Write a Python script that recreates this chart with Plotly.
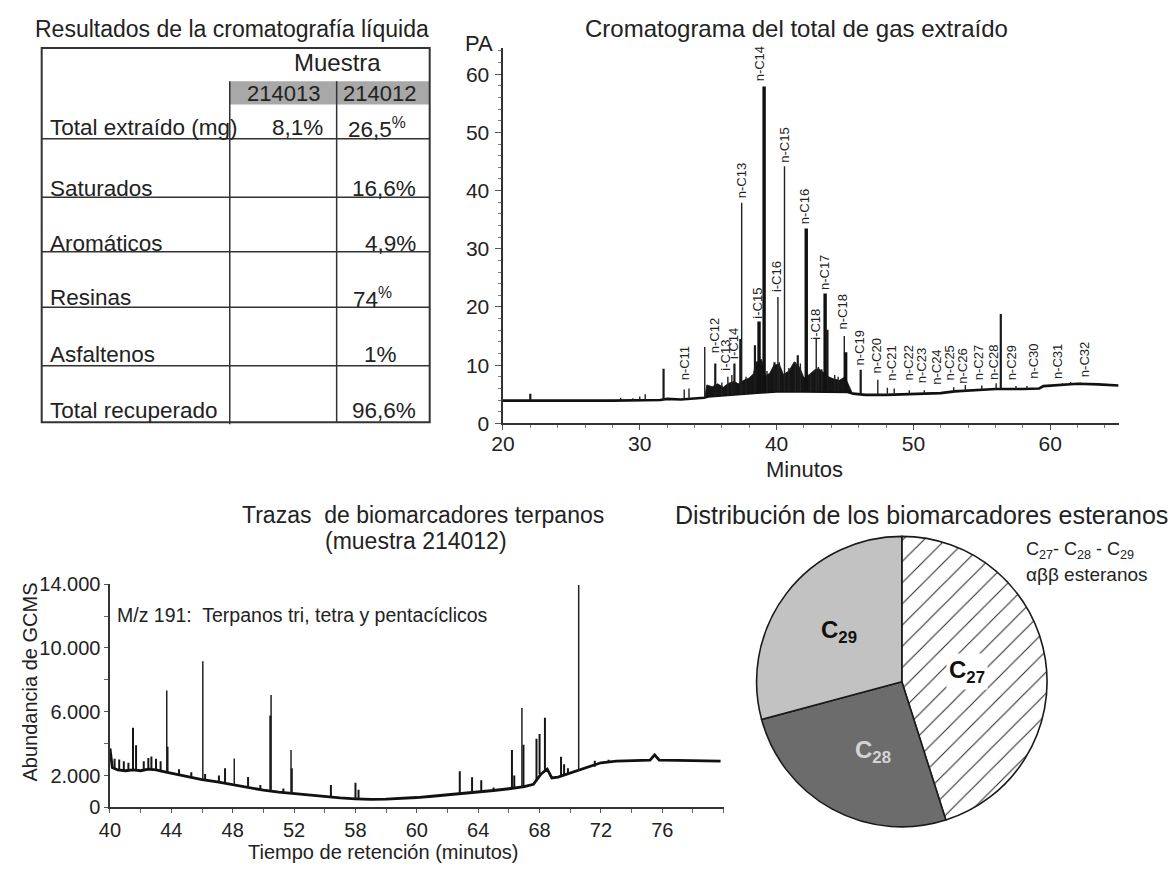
import plotly.graph_objects as go

W, H = 1176, 873
FONT = "Liberation Sans, Arial, Helvetica, sans-serif"

# ------------------------------------------------------------------ data
# Table (cromatografía líquida)
tabla_titulo = "Resultados de la cromatografía líquida"
tabla_filas = ["Total extraído (mg)", "Saturados", "Aromáticos", "Resinas", "Asfaltenos", "Total recuperado"]
tabla_muestras = ["214013", "214012"]
valores_214013 = ["8,1%", "", "", "", "", ""]
valores_214012 = ["26,5<sup>%</sup>", "16,6%", "4,9%", "74<sup>%</sup>", "1%", "96,6%"]

# Chromatogram of total extracted gas (minutes, PA)
crom_base_t = [20.0, 21.8, 22.3, 26.0, 28.0, 31.5, 32.0, 33.0, 34.0, 34.7, 35.0, 36.0, 37.0, 38.0,
               39.0, 40.0, 42.0, 44.0, 45.2, 45.6, 46.5, 48.0, 50.0, 52.0, 53.0, 54.0, 56.0, 58.0,
               59.2, 59.5, 61.0, 62.0, 63.5, 65.0]
crom_base_v = [3.9, 3.9, 3.9, 3.8, 3.9, 4.0, 4.2, 4.1, 4.3, 4.4, 4.6, 4.8, 4.9, 5.1,
               5.3, 5.5, 5.5, 5.5, 5.4, 5.1, 4.9, 4.9, 5.0, 5.2, 5.5, 5.6, 5.9, 5.9,
               6.0, 6.4, 6.6, 6.8, 6.7, 6.5]
crom_bosque_t = [34.75, 34.9, 35.3, 35.7, 36.1, 36.5, 36.9, 37.2, 37.6, 38.0, 38.3, 38.5, 38.9, 39.2,
                 39.5, 39.8, 40.2, 40.5, 40.9, 41.3, 41.7, 42.0, 42.4, 42.8, 43.1, 43.4, 43.8, 44.2,
                 44.6, 45.0, 45.3, 45.5]
crom_bosque_v = [4.4, 6.6, 6.3, 6.8, 6.2, 6.9, 7.2, 6.8, 7.4, 7.8, 8.5, 10.5, 11.0, 8.2,
                 8.6, 10.0, 10.2, 8.4, 9.0, 10.6, 9.6, 7.8, 8.4, 9.2, 9.4, 8.8, 8.0, 7.6,
                 7.4, 8.0, 6.6, 5.4]
# peaks: retention time, apex, foot
picos_gruesos_t = [38.72, 39.09, 42.17, 43.55, 45.05]
picos_gruesos_top = [17.5, 57.9, 33.5, 22.3, 12.2]
picos_gruesos_base = [5.2, 5.3, 5.5, 5.5, 5.4]
picos_medios_t = [22.0, 31.74, 35.52, 36.92, 37.35, 38.42, 39.85, 41.55, 43.72, 46.15, 56.39]
picos_medios_top = [5.1, 9.4, 10.3, 10.3, 14.5, 13.4, 10.5, 11.7, 16.1, 9.2, 18.8]
picos_medios_base = [3.9, 4.0, 4.7, 4.9, 5.0, 5.2, 5.4, 5.5, 5.5, 4.9, 5.9]
picos_finos_t = [28.6, 29.5, 30.0, 30.4, 33.25, 33.6, 34.75, 36.0, 36.44, 36.73, 37.45, 37.77, 39.3,
                 40.1, 40.2, 40.58, 40.9, 41.37, 41.74, 42.5, 42.9, 43.05, 43.3, 44.25, 44.5, 44.95,
                 47.4, 48.1, 48.6, 49.7, 50.8, 52.95, 53.8, 55.0, 56.05, 57.5, 58.3, 60.9, 61.5, 62.2]
picos_finos_top = [4.4, 4.3, 4.6, 5.0, 5.8, 6.0, 13.1, 7.0, 8.0, 8.3, 37.9, 8.0, 9.0,
                   21.7, 10.5, 44.2, 9.5, 10.5, 10.3, 8.5, 14.5, 9.7, 9.3, 8.3, 8.0, 15.0,
                   7.5, 6.1, 6.0, 5.7, 5.7, 6.2, 6.6, 6.5, 6.9, 6.4, 6.4, 6.9, 7.1, 7.0]
picos_finos_base = [3.9, 3.9, 4.0, 4.0, 4.2, 4.2, 4.4, 4.8, 4.8, 4.9, 4.9, 5.0, 5.3,
                    5.5, 5.5, 5.5, 5.5, 5.5, 5.5, 5.5, 5.5, 5.5, 5.5, 5.5, 5.5, 5.4,
                    4.9, 4.9, 4.9, 5.0, 5.0, 5.3, 5.5, 5.7, 5.9, 5.9, 5.9, 6.6, 6.6, 6.7]
crom_etiquetas = ["n-C11", "n-C12", "i-C13", "i-C14", "n-C13", "i-C15", "n-C14", "i-C16", "n-C15",
                  "n-C16", "i-C18", "n-C17", "n-C18", "n-C19", "n-C20", "n-C21", "n-C22", "n-C23",
                  "n-C24", "n-C25", "n-C26", "n-C27", "n-C28", "n-C29", "n-C30", "n-C31", "n-C32"]
crom_etiq_t = [33.3, 35.47, 36.2, 36.85, 37.43, 38.6, 38.75, 39.96, 40.57,
               42.02, 42.85, 43.46, 44.8, 46.03, 47.31, 48.42, 49.65, 50.59,
               51.67, 52.65, 53.62, 54.82, 55.9, 57.24, 58.79, 60.49, 62.48]
crom_etiq_v = [7.2, 11.9, 8.9, 10.9, 38.5, 17.8, 58.6, 22.3, 44.6,
               34.0, 14.2, 22.8, 15.9, 9.7, 8.4, 7.2, 7.2, 6.7,
               6.4, 7.2, 6.7, 7.2, 7.2, 7.2, 7.5, 7.5, 7.7]

# Terpane trace m/z 191 (minutes, GCMS abundance)
terp_base_t = [40.0, 40.15, 40.5, 41.0, 41.5, 42.0, 42.5, 43.0, 43.5, 44.0, 45.0, 46.0, 47.0, 48.0,
               49.0, 50.0, 51.0, 52.0, 53.0, 54.0, 55.0, 56.0, 57.0, 58.0, 59.0, 60.0, 61.0, 62.0,
               63.0, 64.0, 65.0, 66.0, 67.0, 67.6, 68.1, 68.5, 68.8, 69.2, 70.0, 70.5, 71.0, 71.5,
               72.0, 73.0, 74.0, 75.2, 75.5, 75.8, 77.0, 78.0, 79.8]
terp_base_v = [3700, 2500, 2350, 2300, 2350, 2300, 2400, 2350, 2250, 2150, 1950, 1750, 1600, 1420,
               1250, 1080, 960, 860, 780, 700, 600, 540, 500, 520, 560, 620, 700, 780,
               860, 950, 1060, 1170, 1300, 1450, 2100, 2400, 1850, 1900, 2150, 2300, 2450, 2600,
               2800, 2900, 2950, 2970, 3300, 2970, 2950, 2930, 2900]
terp_picos_t = [40.3, 40.6, 40.9, 41.2, 41.5, 41.7, 42.2, 42.5, 42.7, 43.0, 43.3, 43.75, 44.5, 45.3,
                46.2, 47.1, 47.5, 49.0, 49.8, 50.45, 51.3, 51.85, 54.4, 56.0, 56.2, 62.8, 63.6, 64.2,
                65.0, 66.2, 66.35, 66.95, 67.8, 68.0, 68.35, 69.4, 69.6, 69.85, 71.6, 72.5]
terp_picos_top = [3050, 3000, 2900, 2800, 5000, 3900, 2900, 3100, 3200, 3050, 2900, 3800, 2400, 2200,
                  2100, 2000, 2450, 1910, 1400, 5760, 1180, 2460, 1400, 1550, 1100, 2260, 1890, 1710,
                  1250, 3600, 2000, 3930, 4300, 4600, 5620, 3180, 2710, 2460, 2930, 2990]
terp_picos_base = [2400, 2350, 2300, 2300, 2350, 2350, 2300, 2400, 2400, 2350, 2300, 2250, 2050, 1900,
                   1750, 1600, 1550, 1250, 1100, 1050, 960, 880, 680, 540, 540, 790, 880, 950,
                   1060, 1170, 1170, 1300, 1700, 2100, 2300, 1950, 2000, 2050, 2550, 2850]
terp_agujas_t = [43.7, 46.05, 48.1, 50.5, 51.8, 66.85, 70.55]
terp_agujas_top = [7330, 9170, 3060, 7050, 3600, 6230, 13950]
terp_agujas_base = [2250, 1760, 1450, 1050, 880, 1280, 2300]

# Sterane distribution
esteranos = ["C<sub>27</sub>", "C<sub>28</sub>", "C<sub>29</sub>"]
esteranos_pct = [45.1, 25.7, 29.2]


# ------------------------------------------------------------------ helpers
def px(x):
    return x / W


def py(y):
    return 1 - y / H


def ann(text, x, y, size=22, xanchor="center", yanchor="middle", color="#222", **kw):
    return dict(text=text, x=px(x), y=py(y), xref="paper", yref="paper", showarrow=False,
                font=dict(size=size, family=FONT, color=color), xanchor=xanchor,
                yanchor=yanchor, **kw)


def segs(ts, tops, bases):
    xs, ys = [], []
    for t, a, b in zip(ts, tops, bases):
        xs += [t, t, None]
        ys += [b, a, None]
    return xs, ys


fig = go.Figure()

# ------------------------------------------------------------------ chromatogram
lo, hi = crom_bosque_t[0], crom_bosque_t[-1]
poly_x = list(crom_bosque_t) + [t for t in reversed(crom_base_t) if lo <= t <= hi]
poly_y = list(crom_bosque_v) + [v for t, v in zip(reversed(crom_base_t), reversed(crom_base_v)) if lo <= t <= hi]
fig.add_trace(go.Scatter(x=poly_x, y=poly_y, fill="toself", fillcolor="#151515", mode="lines",
                         line=dict(color="#151515", width=0.8), xaxis="x", yaxis="y",
                         hoverinfo="skip", showlegend=False))
fig.add_trace(go.Scatter(x=crom_base_t, y=crom_base_v, mode="lines",
                         line=dict(color="#111", width=2.6), xaxis="x", yaxis="y",
                         hoverinfo="skip", showlegend=False))
for ts, tops, bases, wdt, col in [
    (picos_finos_t, picos_finos_top, picos_finos_base, 1.4, "#222"),
    (picos_medios_t, picos_medios_top, picos_medios_base, 2.2, "#1a1a1a"),
    (picos_gruesos_t, picos_gruesos_top, picos_gruesos_base, 3.4, "#111"),
]:
    xs, ys = segs(ts, tops, bases)
    fig.add_trace(go.Scatter(x=xs, y=ys, mode="lines", line=dict(color=col, width=wdt),
                             xaxis="x", yaxis="y", hoverinfo="skip", showlegend=False))

# ------------------------------------------------------------------ terpanes
fig.add_trace(go.Scatter(x=terp_base_t, y=terp_base_v, mode="lines",
                         line=dict(color="#111", width=2.8), xaxis="x2", yaxis="y2",
                         hoverinfo="skip", showlegend=False))
xs, ys = segs(terp_picos_t, terp_picos_top, terp_picos_base)
fig.add_trace(go.Scatter(x=xs, y=ys, mode="lines", line=dict(color="#151515", width=2.0),
                         xaxis="x2", yaxis="y2", hoverinfo="skip", showlegend=False))
xs, ys = segs(terp_agujas_t, terp_agujas_top, terp_agujas_base)
fig.add_trace(go.Scatter(x=xs, y=ys, mode="lines", line=dict(color="#222", width=1.5),
                         xaxis="x2", yaxis="y2", hoverinfo="skip", showlegend=False))

# ------------------------------------------------------------------ sterane pie
pie_cx, pie_cy, pie_r = 899, 688, 149
fig.add_trace(go.Pie(
    labels=esteranos, values=esteranos_pct, sort=False, direction="clockwise", rotation=0,
    textinfo="none", hoverinfo="skip", showlegend=False,
    marker=dict(colors=["#ffffff", "#6c6c6c", "#c2c2c2"],
                line=dict(color="#1a1a1a", width=1.6),
                pattern=dict(shape=["/", "", ""], fgcolor="#2a2a2a", bgcolor="#ffffff",
                             size=15, solidity=0.07)),
    domain=dict(x=[px(pie_cx - pie_r), px(pie_cx + pie_r)],
                y=[py(pie_cy + pie_r), py(pie_cy - pie_r)]),
))

# ------------------------------------------------------------------ axes
axis_common = dict(showgrid=False, zeroline=False, showline=True, linecolor="#333",
                   linewidth=1.5, ticks="outside", tickcolor="#555",
                   tickfont=dict(size=21, family=FONT, color="#222"), fixedrange=True)
layout_axes = dict(
    xaxis=dict(axis_common, domain=[px(496), px(1118)], range=[20, 65], anchor="y",
               tickvals=[20, 30, 40, 50, 60], ticklen=5, ticklabelstandoff=-4,
               minor=dict(dtick=2, tick0=20, ticklen=3, ticks="outside", tickcolor="#777")),
    yaxis=dict(axis_common, domain=[py(423), py(38)], range=[0, 64.5], anchor="x",
               tickvals=[0, 10, 20, 30, 40, 50, 60], ticklen=6, ticklabelstandoff=2,
               minor=dict(dtick=2, tick0=0, ticklen=3, ticks="outside", tickcolor="#777")),
    xaxis2=dict(axis_common, domain=[px(99), px(719)], range=[40, 80], anchor="y2",
                tickvals=[40, 44, 48, 52, 56, 60, 64, 68, 72, 76],
                ticktext=["40", "44", "48", "52", "58", "60", "64", "68", "72", "76"],
                ticklen=4, tickfont=dict(size=20, family=FONT, color="#222"),
                minor=dict(dtick=2, tick0=40, ticklen=4, ticks="outside", tickcolor="#666")),
    yaxis2=dict(axis_common, domain=[py(817), py(588)], range=[0, 14000], anchor="x2",
                tickvals=[0, 2000, 6000, 10000, 14000],
                ticktext=["0", "2.000", "6.000", "10.000", "14.000"],
                ticklen=4, tickfont=dict(size=20, family=FONT, color="#222"),
                minor=dict(dtick=2000, tick0=0, ticklen=4, ticks="outside", tickcolor="#666")),
)

# ------------------------------------------------------------------ table shapes
shapes = []
LC = "#333"
shapes.append(dict(type="rect", xref="paper", yref="paper", x0=px(220), x1=px(422), y0=py(96), y1=py(72),
                   fillcolor="#a8a8a8", line=dict(width=0), layer="below"))
shapes.append(dict(type="rect", xref="paper", yref="paper", x0=px(30), x1=px(422), y0=py(422), y1=py(38),
                   line=dict(color=LC, width=2)))
for xv, y0, y1 in [(220, 72, 424), (328, 72, 422)]:
    shapes.append(dict(type="line", xref="paper", yref="paper", x0=px(xv), x1=px(xv), y0=py(y1), y1=py(y0),
                       line=dict(color=LC, width=1.5)))
for yv in [131, 191, 247, 304, 364]:
    shapes.append(dict(type="line", xref="paper", yref="paper", x0=px(30), x1=px(422), y0=py(yv), y1=py(yv),
                       line=dict(color=LC, width=1.5)))

# ------------------------------------------------------------------ annotations
anns = []
anns.append(ann(tabla_titulo, 222, 18, size=23))
anns.append(ann("Muestra", 329, 53, size=24))
anns.append(ann(tabla_muestras[0], 274, 85, size=22))
anns.append(ann(tabla_muestras[1], 371, 85, size=22))
fila_base = [128, 190, 246, 302, 360, 418]
for nombre, yb in zip(tabla_filas, fila_base):
    anns.append(ann(nombre, 36, yb - 8, size=22.5, xanchor="left"))
col1_pos = [(316, "right")] * 6
col2_pos = [(337, "left"), (410, "right"), (410, "right"), (342, "left"), (354, "left"), (341, "left")]
for v, (xx, xa), yb in zip(valores_214013, col1_pos, fila_base):
    if v:
        anns.append(ann(v, xx, yb - 8, size=22.5, xanchor=xa))
for v, (xx, xa), yb in zip(valores_214012, col2_pos, fila_base):
    if v:
        anns.append(ann(v, xx, yb - 8, size=22.5, xanchor=xa))

# chromatogram texts
anns.append(ann("Cromatograma del total de gas extraído", 793, 18, size=24))
anns.append(ann("PA", 472, 33, size=22))
anns.append(ann("Minutos", 760, 470, size=22, xanchor="left"))
for lab, t, v in zip(crom_etiquetas, crom_etiq_t, crom_etiq_v):
    anns.append(dict(text=lab, x=t, y=v, xref="x", yref="y", showarrow=False, textangle=-90,
                     xanchor="center", yanchor="bottom", borderpad=0,
                     font=dict(size=13, family=FONT, color="#222")))

# terpane texts
anns.append(ann("Trazas\u00a0 de biomarcadores terpanos", 415, 517, size=23))
anns.append(ann("(muestra 214012)", 408, 544, size=23))
anns.append(ann("M/z 191:\u00a0 Terpanos tri, tetra y pentacíclicos", 104, 620, size=19.5, xanchor="left"))
anns.append(ann("Tiempo de retención (minutos)", 375, 863, size=20))
anns.append(ann("Abundancia de GCMS", 18, 688, size=20, textangle=-90))

# pie texts
anns.append(ann("Distribución de los biomarcadores esteranos", 1170, 517, size=25, xanchor="right"))
anns.append(ann("C<sub>27</sub>- C<sub>28</sub> - C<sub>29</sub>", 1022, 553, size=18, xanchor="left"))
anns.append(ann("αββ esteranos", 1022, 578, size=19, xanchor="left"))
anns.append(ann("<b>C<sub>29</sub></b>", 836, 637, size=24, color="#111"))
anns.append(ann("<b>C<sub>27</sub></b>", 965, 678, size=24, color="#111", bgcolor="#ffffff", borderpad=2))
anns.append(ann("<b>C<sub>28</sub></b>", 870, 760, size=24, color="#d4d4d4"))

fig.update_layout(
    width=W, height=H, autosize=False,
    margin=dict(l=0, r=0, t=0, b=0, pad=0),
    paper_bgcolor="white", plot_bgcolor="white",
    font=dict(family=FONT, color="#222"),
    shapes=shapes, annotations=anns, showlegend=False,
    **layout_axes,
)

fig.write_html("out.html", config={"displayModeBar": False, "staticPlot": True},
               post_script="document.body.style.margin='0px';")
